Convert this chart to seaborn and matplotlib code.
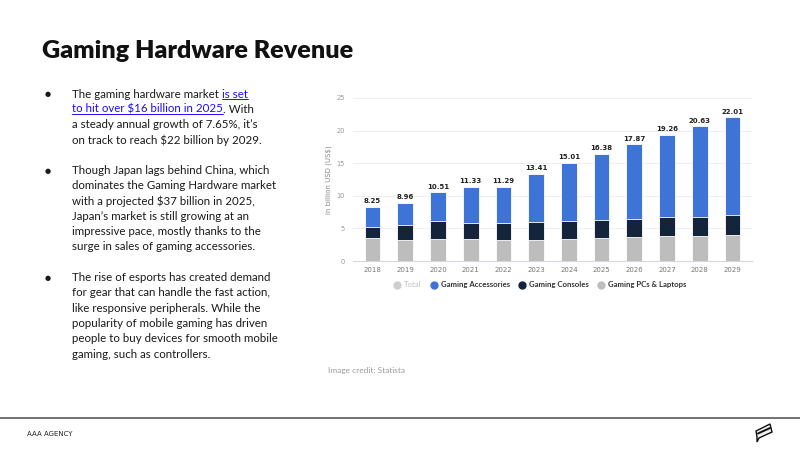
"""
Gaming Hardware Revenue - слайд с текстом и столбчатой диаграммой
"""

import numpy as np
import pandas as pd
import matplotlib.pyplot as plt
import seaborn as sns
from matplotlib.lines import Line2D
from matplotlib.patches import Polygon

# данные (млрд USD)
years = ['2018', '2019', '2020', '2021', '2022', '2023',
         '2024', '2025', '2026', '2027', '2028', '2029']
totals = [8.25, 8.96, 10.51, 11.33, 11.29, 13.41,
          15.01, 16.38, 17.87, 19.26, 20.63, 22.01]
pcs_laptops = [3.47, 3.20, 3.37, 3.30, 3.20, 3.27,
               3.37, 3.47, 3.67, 3.78, 3.78, 3.98]
consoles = [1.79, 2.26, 2.70, 2.60, 2.70, 2.73,
            2.80, 2.75, 2.81, 2.90, 3.01, 3.01]

series_names = ['Total', 'Gaming Accessories', 'Gaming Consoles', 'Gaming PCs & Laptops']

c_acc = '#3f74d7'
c_con = '#14243b'
c_pc = '#bdbdbd'
c_total = '#cfcfcf'

df = pd.DataFrame({'year': years, 'total': totals,
                   'pcs': pcs_laptops, 'consoles': consoles})
df['pcs_cons'] = df['pcs'] + df['consoles']

sns.set_theme(style='white')
plt.rcParams['font.family'] = ['Lato', 'DejaVu Sans']

fig = plt.figure(figsize=(8, 4.5), dpi=100)
W, H = 800, 450


def fx(px):
    return px / W


def fy(py):
    return 1 - py / H


# заголовок
fig.text(fx(42), fy(58), 'Gaming Hardware Revenue', fontsize=18.1, fontweight='heavy',
         color='#111111', va='baseline', ha='left')

# текст с маркерами
body_color = '#1a1a1a'
link_color = '#1a0dff'
body_size = 8.3
bullets = [
    [[('The gaming hardware market ', False), ('is set', True)],
     [('to hit over $16 billion in 2025', True), ('. With', False)],
     [('a steady annual growth of 7.65%, it\u2019s', False)],
     [('on track to reach $22 billion by 2029.', False)]],
    [[('Though Japan lags behind China, which', False)],
     [('dominates the Gaming Hardware market', False)],
     [('with a projected $37 billion in 2025,', False)],
     [('Japan\u2019s market is still growing at an', False)],
     [('impressive pace, mostly thanks to the', False)],
     [('surge in sales of gaming accessories.', False)]],
    [[('The rise of esports has created demand', False)],
     [('for gear that can handle the fast action,', False)],
     [('like responsive peripherals. While the', False)],
     [('popularity of mobile gaming has driven', False)],
     [('people to buy devices for smooth mobile', False)],
     [('gaming, such as controllers.', False)]],
]

renderer = fig.canvas.get_renderer()
line_h = 15.3
y0 = 94
idx = 0
for bullet in bullets:
    fig.text(fx(48), fy(y0 + idx * line_h), '\u25cf', fontsize=5, color=body_color,
             va='center', ha='center', family='DejaVu Sans')
    for line in bullet:
        x = 72
        yy = y0 + idx * line_h
        for piece, is_link in line:
            t = fig.text(fx(x), fy(yy), piece, fontsize=body_size,
                         color=link_color if is_link else body_color,
                         va='center', ha='left')
            bb = t.get_window_extent(renderer)
            if is_link:
                fig.add_artist(Line2D([fx(x), fx(x + bb.width)],
                                      [fy(yy + 5), fy(yy + 5)],
                                      color=link_color, lw=0.7))
            x += bb.width
        idx += 1
    idx += 1

# диаграмма
ax = fig.add_axes([fx(353), fy(261), fx(752 - 353), (261 - 98) / H])
bw = 0.48
sns.barplot(data=df, x='year', y='total', color=c_acc, width=bw, saturation=1,
            edgecolor='white', linewidth=0.6, ax=ax, zorder=3)
sns.barplot(data=df, x='year', y='pcs_cons', color=c_con, width=bw, saturation=1,
            edgecolor='white', linewidth=0.6, ax=ax, zorder=3)
sns.barplot(data=df, x='year', y='pcs', color=c_pc, width=bw, saturation=1,
            edgecolor='white', linewidth=0.6, ax=ax, zorder=3)

for i, v in enumerate(totals):
    ax.text(i, v + 0.45, f'{v:.2f}', ha='center', va='bottom', fontsize=5,
            fontweight='bold', color='#222222', family='DejaVu Sans')

ax.set_ylim(0, 25)
ax.set_xlim(-0.6, 11.6)
ax.set_yticks([0, 5, 10, 15, 20, 25])
ax.grid(axis='y', color='#ececec', lw=0.6, zorder=0)
ax.grid(axis='x', visible=False)
for s in ['top', 'right', 'left']:
    ax.spines[s].set_visible(False)
ax.spines['bottom'].set_color('#d4d8e6')
ax.spines['bottom'].set_linewidth(0.8)
ax.tick_params(axis='y', labelsize=4.8, colors='#999999', length=0, pad=6)
ax.tick_params(axis='x', labelsize=5, colors='#777777', length=0, pad=4)
for lab in ax.get_xticklabels() + ax.get_yticklabels():
    lab.set_family('DejaVu Sans')
ax.set_xlabel('')
ax.set_ylabel('in billion USD (US$)', fontsize=5, color='#888888',
              family='DejaVu Sans', labelpad=3)

handles = [Line2D([], [], marker='o', ls='', markersize=5, color=c)
           for c in [c_total, c_acc, c_con, c_pc]]
leg = ax.legend(handles, series_names, ncol=4, frameon=False, loc='center',
                bbox_to_anchor=(0.469, -0.147), handlelength=0.8, handletextpad=0.5,
                columnspacing=1.2, prop={'family': 'Lato', 'size': 5.6, 'weight': 'bold'})
for i, t in enumerate(leg.get_texts()):
    t.set_color('#c0c0c0' if i == 0 else '#333333')
    if i == 0:
        t.set_fontweight('normal')

fig.text(fx(328), fy(370), 'Image credit: Statista', fontsize=6, color='#9a9a9a',
         va='center', ha='left')

# нижний колонтитул
fig.add_artist(Line2D([0, 1], [fy(418), fy(418)], color='#666666', lw=1.3))
fig.text(fx(27), fy(434), 'AAA AGENCY', fontsize=5, color='#222222',
         va='center', ha='left', family='Liberation Sans Narrow')
logo = Polygon([[fx(756), fy(431)], [fx(770), fy(424)], [fx(772), fy(432)],
                [fx(759), fy(438)], [fx(757), fy(442)], [fx(757), fy(437)]],
               closed=True, facecolor='#f2f2f2', edgecolor='#111111', lw=1.0,
               transform=fig.transFigure)
fig.add_artist(logo)
fig.add_artist(Line2D([fx(758), fx(770)], [fy(433.5), fy(428)], color='#111111',
                      lw=1.4, transform=fig.transFigure))

fig.savefig('out.png', dpi=100)
plt.close()
